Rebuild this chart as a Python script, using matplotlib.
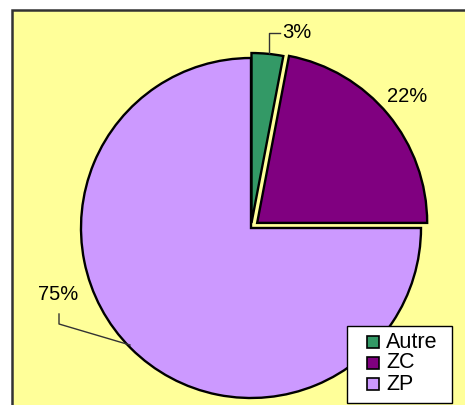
import matplotlib.pyplot as plt
from matplotlib.patches import Rectangle

plt.rcParams['font.family'] = ['Liberation Sans', 'DejaVu Sans']

# %% Data
categories = ["Autre", "ZC", "ZP"]
shares = [3, 22, 75]
pct_labels = ["3%", "22%", "75%"]
colors = ["#339966", "#800080", "#CC99FF"]
explode_px = [5, 8, 0]

W, H = 465, 405

# %% Figure: axes in pixel units, y measured upward
fig = plt.figure(figsize=(W / 100, H / 100), dpi=100)
ax = fig.add_axes([0, 0, 1, 1])

# pale yellow chart area with a dark border on the visible left/top edges
ax.add_patch(Rectangle((12, -5), W, H - 10 + 5, facecolor="#FFFF99",
                       edgecolor="#333333", linewidth=1.8, zorder=0))

# explode is in data units here (pixels), not fractions of the radius
cx, cy, r = 251, H - 228, 170
wedges, _ = ax.pie(shares, colors=colors, startangle=90, counterclock=False,
                   center=(cx, cy), radius=r, explode=explode_px,
                   wedgeprops=dict(edgecolor="black", linewidth=1.7))

# percentage labels with Excel-like leader lines
fs = 14.5
ax.text(297, H - 33, pct_labels[0], fontsize=fs, ha="center", va="center")
ax.plot([280, 269, 269], [H - 33, H - 33, H - 53], color="#333333", lw=1)
ax.text(407, H - 97, pct_labels[1], fontsize=fs, ha="center", va="center")
ax.text(58, H - 294, pct_labels[2], fontsize=fs, ha="center", va="center")
ax.plot([59, 59, 130], [H - 314, H - 324, H - 345], color="#333333", lw=1)

# legend box drawn by hand so its padding matches the Excel original
ax.add_patch(Rectangle((347, H - 403), 105, 77, facecolor="white",
                       edgecolor="black", linewidth=1, zorder=5))
for i, (name, c) in enumerate(zip(categories, colors)):
    y = H - (342 + 21 * i)
    ax.add_patch(Rectangle((367, y - 6), 12, 12, facecolor=c,
                           edgecolor="black", linewidth=1.2, zorder=6))
    ax.text(386, y, name, fontsize=15.5, ha="left", va="center", zorder=6)

ax.set_xlim(0, W)
ax.set_ylim(0, H)
ax.set_aspect("equal")
ax.axis("off")

fig.savefig("out.png", dpi=100)
